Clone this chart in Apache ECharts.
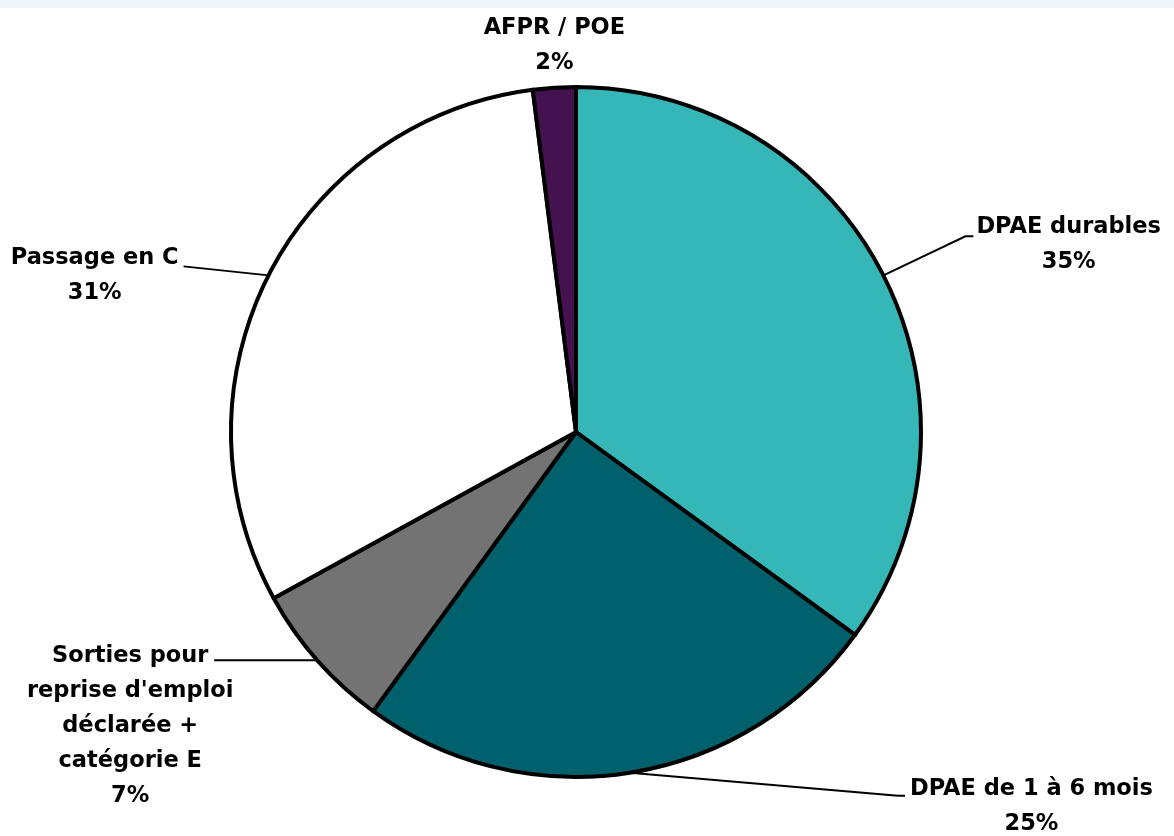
<!DOCTYPE html>
<html><head><meta charset="utf-8">
<script src="https://cdn.jsdelivr.net/npm/echarts@6/dist/echarts.min.js"></script>
<style>html,body{margin:0;padding:0;background:#fff;}#chart{width:1174px;height:836px;}</style>
</head><body><div id="chart"></div>
<script>
const categories = ['DPAE durables', 'DPAE de 1 à 6 mois', "Sorties pour reprise d'emploi déclarée + catégorie E", 'Passage en C', 'AFPR / POE'];
const shares = [35, 25, 7, 31, 2];
const labelTexts = ['DPAE durables', 'DPAE de 1 à 6 mois', "Sorties pour\nreprise d'emploi\ndéclarée +\ncatégorie E", 'Passage en C', 'AFPR / POE'];
const sliceColors = ['#35B7B7', '#00616D', '#737373', '#FFFFFF', '#44124F'];

const FONT = '"DejaVu Sans", sans-serif';
const FONT_SIZE = 22.5;
const LINE_H = 35;
// leader-line layout, relative to each slice's anchor point
const leaders = [
  { elbow: [82, -39], tail: 8, side: 'right', gap: 3, textDy: -9 },
  { elbow: [268, 23], tail: 7, side: 'right', gap: 5, textDy: -7 },
  { elbow: [-4, 0], tail: 99, side: 'left', centerDx: -84, textDy: -4 },
  { elbow: [-85, -9], tail: 0, side: 'left', gap: 5, textDy: -8 },
  null
];

const chart = echarts.init(document.getElementById('chart'), null, { renderer: 'canvas' });
const data = categories.map((name, i) => ({
  name,
  value: shares[i],
  itemStyle: { color: sliceColors[i] },
  labelLine: { show: leaders[i] !== null }
}));

chart.setOption({
  animation: false,
  backgroundColor: '#ffffff',
  graphic: [{ type: 'rect', left: 0, top: 0, shape: { width: 1174, height: 8 }, style: { fill: '#EFF7F9' }, silent: true }],
  series: [{
    type: 'pie',
    center: [576, 432],
    radius: 345,
    startAngle: 90,
    clockwise: true,
    avoidLabelOverlap: false,
    emphasis: { disabled: true },
    itemStyle: { borderColor: '#000000', borderWidth: 4 },
    label: {
      show: true,
      position: 'outside',
      formatter: p => labelTexts[p.dataIndex].split('\n').map(t => '{c|' + t + '}').join('\n') + '\n{c|' + p.value + '%}',
      rich: { c: { align: 'center', fontFamily: FONT, fontWeight: 'bold', fontSize: FONT_SIZE, lineHeight: LINE_H, color: '#000000' } },
      fontFamily: FONT, fontWeight: 'bold', fontSize: FONT_SIZE, lineHeight: LINE_H, color: '#000000'
    },
    labelLine: { show: true, length: 20, length2: 20, lineStyle: { color: '#000000', width: 2 } },
    labelLayout: function (params) {
      const cfg = leaders[params.dataIndex];
      if (!cfg) {
        const r = params.rect;
        return { x: r.x + r.width / 2, y: r.y - 4, align: 'center', verticalAlign: 'bottom' };
      }
      const a = params.labelLinePoints[0];
      const sign = cfg.side === 'right' ? 1 : -1;
      const elbow = [a[0] + cfg.elbow[0], a[1] + cfg.elbow[1]];
      const end = [elbow[0] + sign * cfg.tail, elbow[1]];
      let x, align;
      if (cfg.centerDx != null) { x = end[0] + cfg.centerDx; align = 'center'; }
      else { x = end[0] + sign * cfg.gap; align = sign > 0 ? 'left' : 'right'; }
      return { x, y: end[1] + cfg.textDy - LINE_H / 2, align, verticalAlign: 'top', labelLinePoints: [a, elbow, end] };
    },
    data
  }]
});
</script>
</body></html>
